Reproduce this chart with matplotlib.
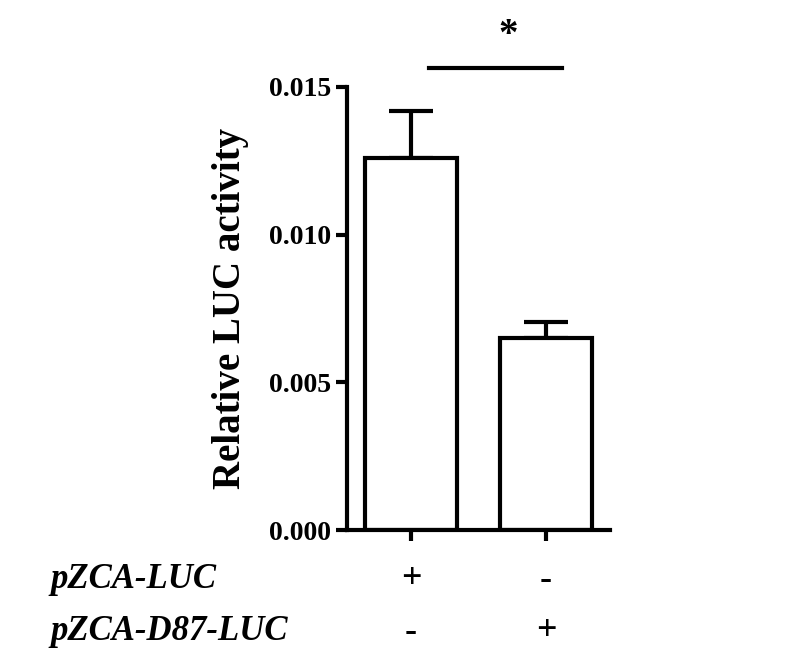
import matplotlib
matplotlib.use("Agg")
import matplotlib.pyplot as plt
from matplotlib.transforms import blended_transform_factory

plt.rcParams['font.family'] = ['Liberation Serif', 'DejaVu Serif']

groups = [0, 1]
means = [0.0126, 0.0065]
errs = [0.0016, 0.00055]
row_names = ["pZCA-LUC", "pZCA-D87-LUC"]
row_signs = [["+", "-"], ["-", "+"]]

fig = plt.figure(figsize=(8.04, 6.55), dpi=100)
ax = fig.add_axes([0.4316, 0.1908, 0.3271, 0.6764])

lw = 3
ax.bar(groups, means, width=0.68, color="white", edgecolor="black", linewidth=lw, zorder=2)
ax.errorbar(groups, means, yerr=[[0, 0], errs], fmt="none", ecolor="black",
            elinewidth=lw, capsize=16, capthick=lw, zorder=1)

ax.set_xlim(-0.474, 1.474)
ax.set_ylim(0, 0.015)
ax.set_yticks([0, 0.005, 0.010, 0.015])
ax.set_yticklabels(["0.000", "0.005", "0.010", "0.015"])
ax.set_xticks(groups)
ax.set_xticklabels([])
for s in ["top", "right"]:
    ax.spines[s].set_visible(False)
for s in ["left", "bottom"]:
    ax.spines[s].set_linewidth(lw)
ax.tick_params(width=lw, length=8, labelsize=20)
for t in ax.get_yticklabels():
    t.set_fontweight("bold")
ax.set_ylabel("Relative LUC activity", fontsize=28, fontweight="bold", labelpad=14)

# significance
ax.plot([0.13, 1.12], [0.01564, 0.01564], color="black", lw=lw, clip_on=False)
ax.text(0.72, 0.0161, "*", ha="center", va="bottom", fontsize=28, fontweight="bold")

# condition rows
tr = blended_transform_factory(ax.transData, fig.transFigure)
for r, (name, signs) in enumerate(zip(row_names, row_signs)):
    yf = 1 - (580 + r * 52) / 655
    fig.text(50 / 804, yf, name, fontsize=25, fontweight="bold", style="italic",
             va="center", ha="left")
    for g, s in zip(groups, signs):
        ax.text(g, yf, s, transform=tr, ha="center", va="center",
                fontsize=26, fontweight="bold")

fig.savefig("out.png", dpi=100)
